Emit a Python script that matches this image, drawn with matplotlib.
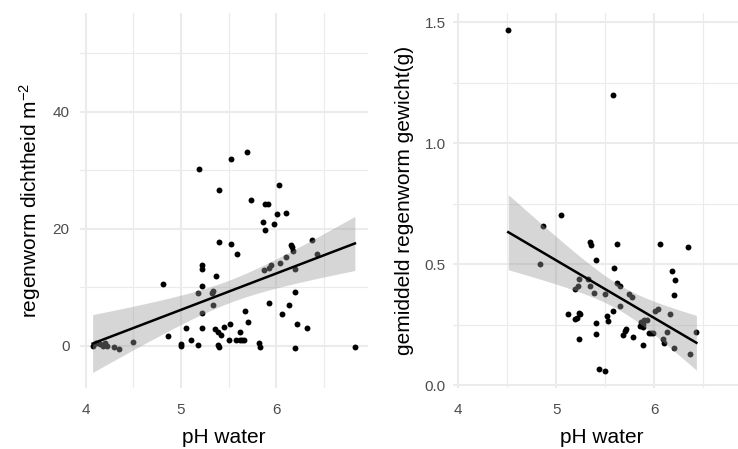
import numpy as np
import matplotlib
matplotlib.use("Agg")
import matplotlib.pyplot as plt
from matplotlib.ticker import MultipleLocator

# pH water vs regenworm dichtheid (m^-2)
ph_dens = [4.07, 4.11, 4.15, 4.18, 4.20, 4.22, 4.29, 4.35, 4.49, 4.81, 4.86, 5.00, 5.00,
           5.05, 5.11, 5.18, 5.18, 5.19, 5.22, 5.22, 5.22, 5.22, 5.22, 5.33, 5.34, 5.34,
           5.37, 5.36, 5.39, 5.42, 5.39, 5.40, 5.40, 5.40, 5.45, 5.50, 5.52, 5.53, 5.53,
           5.59, 5.58, 5.62, 5.62, 5.64, 5.66, 5.67, 5.69, 5.71, 5.74, 5.82, 5.83, 5.86,
           5.88, 5.88, 5.92, 5.87, 5.93, 5.93, 5.95, 5.98, 6.01, 6.03, 6.04, 6.06, 6.11,
           6.11, 6.14, 6.16, 6.17, 6.18, 6.20, 6.20, 6.20, 6.22, 6.33, 6.38, 6.43, 6.83]
dichtheid = [0.0, 0.5, 0.4, 0.0, 0.5, -0.1, -0.2, -0.6, 0.7, 10.5, 1.7, 0.4, -0.1,
             3.0, 1.0, 0.2, 9.0, 30.3, 13.9, 13.2, 10.3, 5.6, 3.0, 9.0, 9.4, 7.0,
             11.9, 2.8, 2.3, 1.9, 0.2, -0.2, 26.6, 17.8, 3.3, 1.0, 3.8, 31.9, 17.4,
             15.7, 1.0, 2.3, 1.0, 1.0, 1.0, 5.9, 33.2, 4.1, 24.9, 0.5, -0.2, 21.2,
             19.8, 24.3, 24.3, 13.0, 7.4, 13.3, 13.8, 20.9, 22.5, 27.5, 14.1, 5.5, 22.7,
             15.2, 7.0, 17.3, 16.9, 16.3, 13.1, 9.2, -0.3, 3.8, 3.0, 18.1, 15.7, -0.2]

# pH water vs gemiddeld regenworm gewicht (g)
ph_gew = [4.51, 5.58, 5.05, 4.86, 4.83, 5.34, 5.35, 5.62, 5.41, 5.59, 6.06, 6.34, 6.18,
          6.21, 6.20, 5.12, 5.19, 5.21, 5.23, 5.24, 5.19, 5.22, 5.23, 5.23, 5.32, 5.34,
          5.38, 5.41, 5.41, 5.44, 5.50, 5.50, 5.52, 5.53, 5.58, 5.62, 5.65, 5.65, 5.68,
          5.70, 5.71, 5.74, 5.77, 5.78, 5.85, 5.86, 5.88, 5.90, 5.93, 5.88, 5.89, 5.95,
          5.97, 5.99, 6.01, 6.04, 6.09, 6.10, 6.13, 6.16, 6.20, 6.36, 6.43]
gewicht = [1.468, 1.197, 0.702, 0.657, 0.502, 0.591, 0.577, 0.584, 0.515, 0.485, 0.584,
           0.572, 0.471, 0.433, 0.371, 0.292, 0.272, 0.279, 0.300, 0.293, 0.396, 0.410,
           0.440, 0.190, 0.440, 0.410, 0.382, 0.258, 0.213, 0.066, 0.059, 0.378, 0.286,
           0.265, 0.306, 0.420, 0.410, 0.327, 0.206, 0.224, 0.231, 0.375, 0.364, 0.197,
           0.243, 0.260, 0.253, 0.270, 0.270, 0.240, 0.165, 0.217, 0.217, 0.217, 0.306,
           0.313, 0.190, 0.172, 0.221, 0.293, 0.153, 0.128, 0.221]


def lm_band(x, y, t=1.99):
    # lineaire regressie + 95% betrouwbaarheidsband (zoals geom_smooth(method="lm"))
    x = np.asarray(x)
    y = np.asarray(y)
    b, a = np.polyfit(x, y, 1)
    res = y - (a + b * x)
    n = len(x)
    s = np.sqrt(np.sum(res ** 2) / (n - 2))
    sxx = np.sum((x - x.mean()) ** 2)
    xs = np.linspace(x.min(), x.max(), 80)
    fit = a + b * xs
    se = s * np.sqrt(1 / n + (xs - x.mean()) ** 2 / sxx)
    return xs, fit, fit - t * se, fit + t * se


plt.rcParams['font.family'] = ['Liberation Sans', 'DejaVu Sans']
plt.rcParams['mathtext.fontset'] = 'custom'
plt.rcParams['mathtext.rm'] = 'Liberation Sans'
plt.rcParams['mathtext.default'] = 'regular'

W, H = 738, 449
fig = plt.figure(figsize=(W / 100, H / 100), dpi=100)


def px_axes(x0, x1, y0, y1):
    return fig.add_axes([x0 / W, 1 - y1 / H, (x1 - x0) / W, (y1 - y0) / H])


def style(ax, ytick_pad):
    for sp in ax.spines.values():
        sp.set_visible(False)
    ax.set_axisbelow(True)
    ax.grid(which='major', color='#EBEBEB', linewidth=1.5)
    ax.grid(which='minor', color='#EBEBEB', linewidth=0.8)
    ax.tick_params(which='both', length=0, labelsize=11, labelcolor='#4D4D4D')
    ax.tick_params(axis='x', pad=10.5)
    ax.tick_params(axis='y', pad=ytick_pad)
    ax.xaxis.set_major_locator(MultipleLocator(1))
    ax.xaxis.set_minor_locator(MultipleLocator(0.5))


def panel(ax, x, y):
    ax.scatter(x, y, s=18, color='black', linewidths=0, zorder=2)
    xs, fit, lo, hi = lm_band(x, y)
    ax.fill_between(xs, lo, hi, color='#999999', alpha=0.4, linewidth=0, zorder=3)
    ax.plot(xs, fit, color='black', linewidth=1.8, zorder=4)


# links
ax1 = px_axes(80, 368, 13, 388)
style(ax1, 7.5)
panel(ax1, ph_dens, dichtheid)
ax1.set_xlim(3.937, 6.968)
ax1.set_ylim(-7.2, 56.9)
ax1.yaxis.set_major_locator(MultipleLocator(20))
ax1.yaxis.set_minor_locator(MultipleLocator(10))
ax1.set_xlabel('pH water', fontsize=15, va='center')
ax1.xaxis.set_label_coords(0.5, -0.131)
ax1.set_ylabel('regenworm dichtheid m$^{-2}$', fontsize=15, va='center')
ax1.yaxis.set_label_coords(-0.172, 0.5)

# rechts
ax2 = px_axes(453.3, 750, 13, 388)
style(ax2, 5.5)
panel(ax2, ph_gew, gewicht)
ax2.set_xlim(3.949, 6.977)
ax2.set_ylim(-0.012, 1.538)
ax2.yaxis.set_major_locator(MultipleLocator(0.5))
ax2.yaxis.set_minor_locator(MultipleLocator(0.25))
ax2.yaxis.set_major_formatter(lambda v, p: f'{v:.1f}')
ax2.set_xlabel('pH water', fontsize=15, va='center')
ax2.xaxis.set_label_coords(0.5, -0.131)
ax2.set_ylabel('gemiddeld regenworm gewicht(g)', fontsize=15, va='center')
ax2.yaxis.set_label_coords(-0.163, 0.5)

fig.savefig('out.png', dpi=100)
